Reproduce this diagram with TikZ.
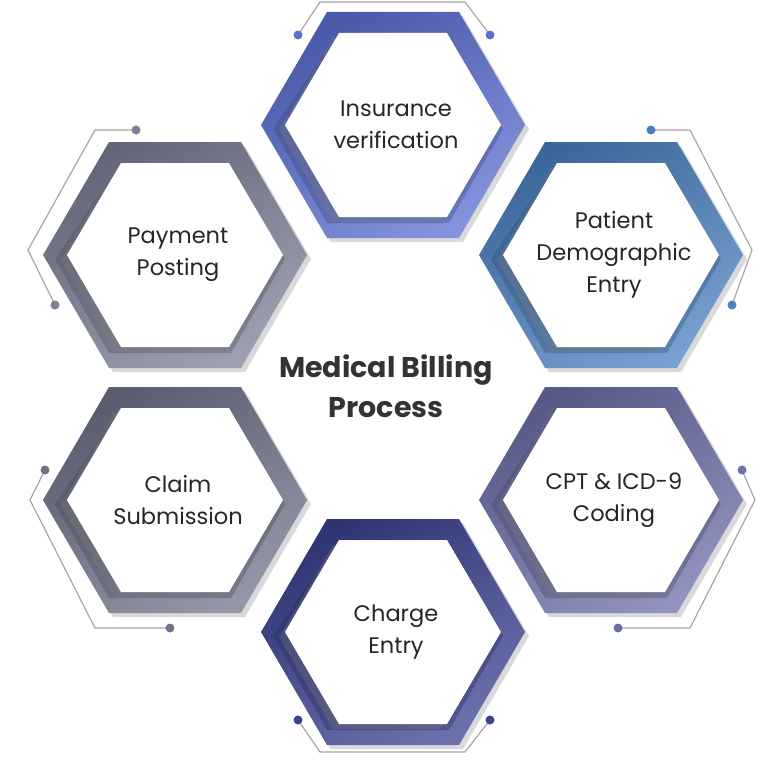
\documentclass[tikz,border=0pt]{standalone}
\usepackage{fontspec}
\setmainfont{Poppins}
\usetikzlibrary{shadows}
\definecolor{hexTop}{HTML}{5C6FD2}
\definecolor{hexUR}{HTML}{4A80C0}
\definecolor{hexUL}{HTML}{7B8096}
\definecolor{hexLL}{HTML}{70748A}
\definecolor{hexLR}{HTML}{6C6FA8}
\definecolor{hexBot}{HTML}{3A4290}
\tikzset{
  rim/.style={draw=gray!70,line width=1.2pt},
  dotmark/.style={circle,fill=#1,inner sep=0pt,minimum size=9pt},
  steptext/.style={align=center,font=\fontsize{22.5}{32}\selectfont,text=black!85},
}
\begin{document}
\begin{tikzpicture}[x=1pt,y=-1pt]
\useasboundingbox (0,0) rectangle (773,773);
% hexagons: centre, colour, text
\foreach \cx/\cy/\col/\txt/\nm in {393/125/hexTop/{Insurance\\verification}/ins,
    611/255/hexUR/{Patient\\Demographic\\Entry}/pat,
    175/255/hexUL/{Payment\\Posting}/pay,
    611/500/hexLR/{CPT \& ICD-9\\Coding}/cpt,
    175/500/hexLL/{Claim\\Submission}/clm,
    393/632/hexBot/{Charge\\Entry}/chg}{
  \shadedraw[draw=none,left color=\col!80!black,right color=\col!75!white,shading angle=30,drop shadow={opacity=0.3,shadow xshift=4pt,shadow yshift=-4pt}]
    (\cx+132,\cy) -- (\cx+66,\cy-113) -- (\cx-66,\cy-113) -- (\cx-132,\cy)
    -- (\cx-66,\cy+113) -- (\cx+66,\cy+113) -- cycle;
  \fill[\col!60!black,opacity=0.35]
    (\cx+110,\cy+4) -- (\cx+56,\cy-90) -- (\cx-56,\cy-90) -- (\cx-120,\cy+4)
    -- (\cx-66,\cy+98) -- (\cx+56,\cy+98) -- cycle;
  \fill[white,drop shadow={shadow xshift=-6pt,shadow yshift=-5pt,opacity=0.3}]
    (\cx+108,\cy) -- (\cx+54,\cy-92) -- (\cx-54,\cy-92) -- (\cx-108,\cy)
    -- (\cx-54,\cy+92) -- (\cx+54,\cy+92) -- cycle;
  \node[steptext] (\nm) at (\cx+3,\cy) {\txt};
}
\node[font=\bfseries\fontsize{28.5}{40}\selectfont,align=center,text=black!80] (title) at (386,386) {Medical Billing\\Process};
% outer guide lines
\draw[rim] (298,35) -- (320,2) -- (465,2) -- (490,35);
\node[dotmark=hexTop] (d1) at (298,35) {}; \node[dotmark=hexTop] (d2) at (490,35) {};
\draw[rim] (651,130) -- (690,130) -- (752,250) -- (732,305);
\node[dotmark=hexUR] (d3) at (651,130) {}; \node[dotmark=hexUR] (d4) at (732,305) {};
\draw[rim] (136,130) -- (95,130) -- (28,250) -- (55,305);
\node[dotmark=hexUL] (d5) at (136,130) {}; \node[dotmark=hexUL] (d6) at (55,305) {};
\draw[rim] (45,470) -- (30,500) -- (95,628) -- (170,628);
\node[dotmark=hexLL] (d7) at (45,470) {}; \node[dotmark=hexLL] (d8) at (170,628) {};
\draw[rim] (742,470) -- (755,500) -- (690,628) -- (618,628);
\node[dotmark=hexLR] (d9) at (742,470) {}; \node[dotmark=hexLR] (d10) at (618,628) {};
\draw[rim] (298,720) -- (320,752) -- (465,752) -- (490,720);
\node[dotmark=hexBot] (d11) at (298,720) {}; \node[dotmark=hexBot] (d12) at (490,720) {};
\end{tikzpicture}
\end{document}
